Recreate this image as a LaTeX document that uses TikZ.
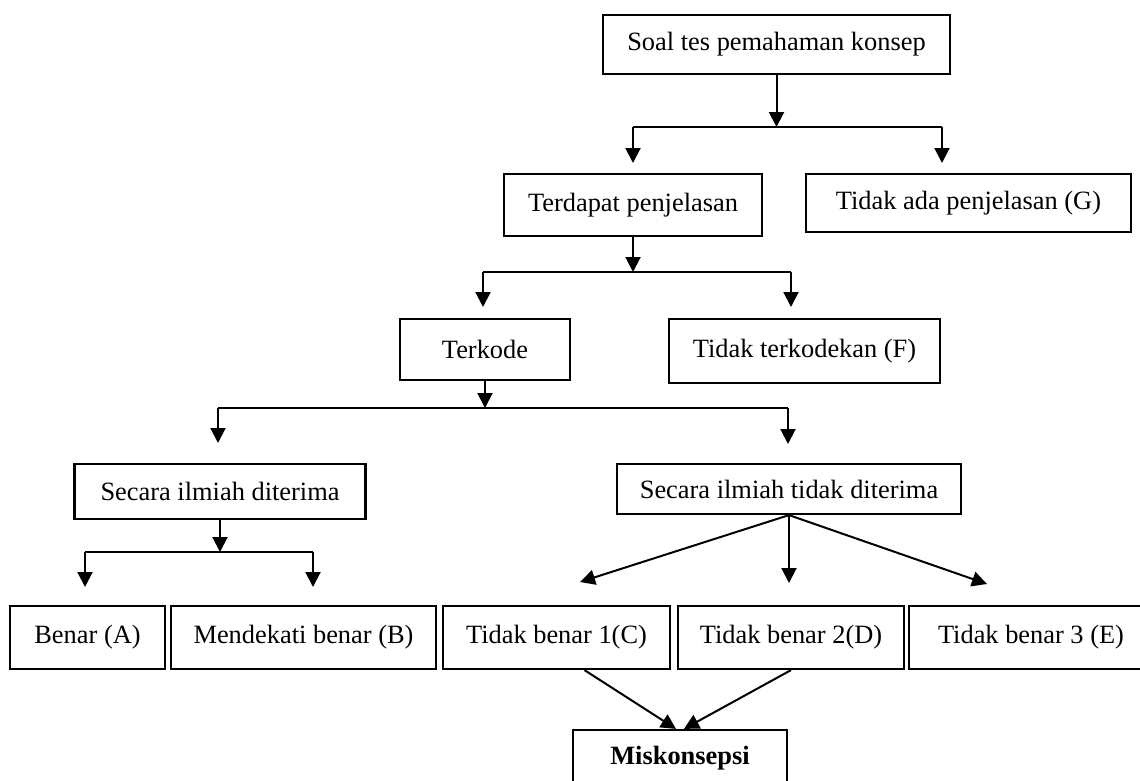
\documentclass[tikz,border=0pt]{standalone}
\usepackage{fontspec}
\setmainfont{Liberation Serif}
\usetikzlibrary{arrows.meta}

\begin{document}
\begin{tikzpicture}[x=1pt,y=-1pt,>={Triangle[length=15pt,width=15pt]}]
        \useasboundingbox (0,0) rectangle (1140,780);

        \begin{scope}[every node/.style={rectangle,draw,line width=2.2pt,inner sep=0pt,font=\fontsize{26.4}{30}\selectfont}]
            \node[minimum width=347pt,minimum height=59pt] (1) at (776.5,44.5) {Soal tes pemahaman konsep};
            \node[minimum width=258pt,minimum height=62pt] (2) at (633,205) {Terdapat penjelasan};
            \node[minimum width=325pt,minimum height=58pt] (3) at (968.5,203) {Tidak ada penjelasan (G)};
            \node[minimum width=170pt,minimum height=61pt] (4) at (485,349.5) {Terkode};
            \node[minimum width=271pt,minimum height=64pt] (5) at (804.5,351) {Tidak terkodekan (F)};
            \node[minimum width=291pt,minimum height=55pt] (6) at (220,491.5) {Secara ilmiah diterima};
            \node[minimum width=344pt,minimum height=50pt] (7) at (789,489) {Secara ilmiah tidak diterima};
            \node[minimum width=155pt,minimum height=63pt] (8) at (87.5,637.5) {Benar (A)};
            \node[minimum width=265pt,minimum height=63pt] (9) at (303.5,637.5) {Mendekati benar (B)};
            \node[minimum width=227pt,minimum height=63pt] (10) at (556.5,637.5) {Tidak benar 1(C)};
            \node[minimum width=226pt,minimum height=63pt] (11) at (791,637.5) {Tidak benar 2(D)};
            \node[minimum width=244pt,minimum height=63pt] (12) at (1031,637.5) {Tidak benar 3 (E)};
            \node[minimum width=214pt,minimum height=56pt] (13) at (680,758) {\textbf{Miskonsepsi}};
        \end{scope}

        % branch points and arrow ends
        \coordinate (b1) at (776.5,127);
        \coordinate (b1l) at (633,127);
        \coordinate (b1r) at (942,127);
        \coordinate (t1l) at (633,163);
        \coordinate (t1r) at (942,163);
        \coordinate (b2) at (633,272);
        \coordinate (b2l) at (483,272);
        \coordinate (b2r) at (791,272);
        \coordinate (t2l) at (483,307);
        \coordinate (t2r) at (791,307);
        \coordinate (b3) at (485,408);
        \coordinate (b3l) at (218,408);
        \coordinate (b3r) at (788,408);
        \coordinate (t3l) at (218,443);
        \coordinate (t3r) at (788,444);
        \coordinate (b4) at (220,552);
        \coordinate (b4l) at (85,552);
        \coordinate (b4r) at (313,552);
        \coordinate (t4l) at (85,587);
        \coordinate (t4r) at (313,587);
        \coordinate (f1) at (580,582);
        \coordinate (f2) at (789,583);
        \coordinate (f3) at (987,584);

        \begin{scope}[every edge/.style={draw,line width=2pt}]
            \path [->] (1) edge (b1);
            \path (b1l) edge (b1r);
            \path [->] (b1l) edge (t1l);
            \path [->] (b1r) edge (t1r);

            \path [->] (2) edge (b2);
            \path (b2l) edge (b2r);
            \path [->] (b2l) edge (t2l);
            \path [->] (b2r) edge (t2r);

            \path [->] (4) edge (b3);
            \path (b3l) edge (b3r);
            \path [->] (b3l) edge (t3l);
            \path [->] (b3r) edge (t3r);

            \path [->] (6) edge (b4);
            \path (b4l) edge (b4r);
            \path [->] (b4l) edge (t4l);
            \path [->] (b4r) edge (t4r);

            \path [->] (7.south) edge (f1);
            \path [->] (7.south) edge (f2);
            \path [->] (7.south) edge (f3);

            \path [->] ([xshift=28pt]10.south) edge ([xshift=-4pt]13.north);
            \path [->] (11.south) edge ([xshift=4pt]13.north);
        \end{scope}

    \end{tikzpicture}
\end{document}
